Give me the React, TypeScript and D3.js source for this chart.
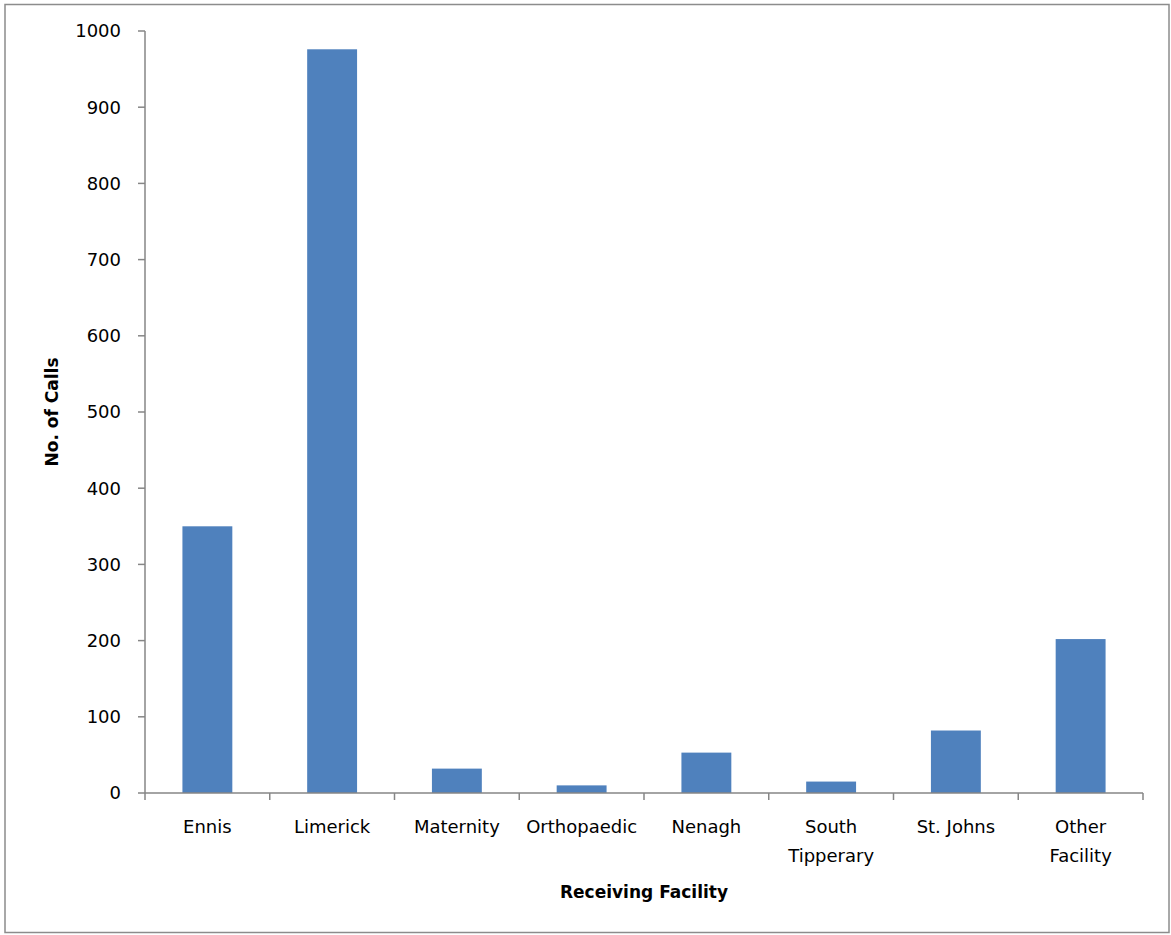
import React from "react";
import * as d3 from "d3";

const categories: string[][] = [
  ["Ennis"],
  ["Limerick"],
  ["Maternity"],
  ["Orthopaedic"],
  ["Nenagh"],
  ["South", "Tipperary"],
  ["St. Johns"],
  ["Other", "Facility"],
];
const values: number[] = [350, 976, 32, 10, 53, 15, 82, 202];
const yTicks: number[] = [0, 100, 200, 300, 400, 500, 600, 700, 800, 900, 1000];
const xTitle = "Receiving Facility";
const yTitle = "No. of Calls";

const W = 1171;
const H = 935;
const left = 145;
const right = 1143;
const top = 31;
const bottom = 793;
const font = "'DejaVu Sans', Verdana, sans-serif";
const axisColor = "#868686";
const barColor = "#4f81bd";

export default function App() {
  const keys = categories.map((_, i) => String(i));
  const x = d3.scaleBand<string>().domain(keys).range([left, right]).paddingInner(0.6).paddingOuter(0.3);
  const xb = d3.scaleBand<string>().domain(keys).range([left, right]).padding(0);
  const y = d3.scaleLinear().domain([0, 1000]).range([bottom, top]);

  return (
    <svg width={W} height={H} style={{ position: "absolute", left: 0, top: 0 }}>
      <rect x={0} y={0} width={W} height={H} fill="#fff" />
      <rect x={5} y={4.5} width={1164} height={928} fill="none" stroke="#8c8c8c" strokeWidth={1.5} />
      {values.map((v, i) => (
        <rect key={i} x={x(String(i))} y={y(v)} width={x.bandwidth()} height={y(0) - y(v)} fill={barColor} />
      ))}
      {/* y axis */}
      <line x1={left} x2={left} y1={top} y2={bottom} stroke={axisColor} strokeWidth={1.5} />
      {yTicks.map((t) => (
        <g key={t}>
          <line x1={left - 7} x2={left} y1={y(t)} y2={y(t)} stroke={axisColor} strokeWidth={1.5} />
          <text x={left - 24} y={y(t)} dy="0.35em" textAnchor="end" fontFamily={font} fontSize={18} fill="#000">
            {t}
          </text>
        </g>
      ))}
      {/* x axis */}
      <line x1={left} x2={right} y1={bottom} y2={bottom} stroke={axisColor} strokeWidth={1.5} />
      {keys.map((k) => (
        <line key={k} x1={xb(k)} x2={xb(k)} y1={bottom} y2={bottom + 7} stroke={axisColor} strokeWidth={1.5} />
      ))}
      <line x1={right} x2={right} y1={bottom} y2={bottom + 7} stroke={axisColor} strokeWidth={1.5} />
      {categories.map((lines, i) => (
        <text key={i} x={xb(String(i))! + xb.bandwidth() / 2} y={827} textAnchor="middle" fontFamily={font} fontSize={18} fill="#000">
          {lines.map((l, j) => (
            <tspan key={j} x={xb(String(i))! + xb.bandwidth() / 2} dy={j === 0 ? "0.35em" : 29}>
              {l}
            </tspan>
          ))}
        </text>
      ))}
      <text x={(left + right) / 2} y={892} dy="0.35em" textAnchor="middle" fontFamily={font} fontSize={17} fontWeight="bold" fill="#000">
        {xTitle}
      </text>
      <text transform={`translate(52,${(top + bottom) / 2}) rotate(-90)`} dy="0.35em" textAnchor="middle" fontFamily={font} fontSize={17} fontWeight="bold" fill="#000">
        {yTitle}
      </text>
    </svg>
  );
}
